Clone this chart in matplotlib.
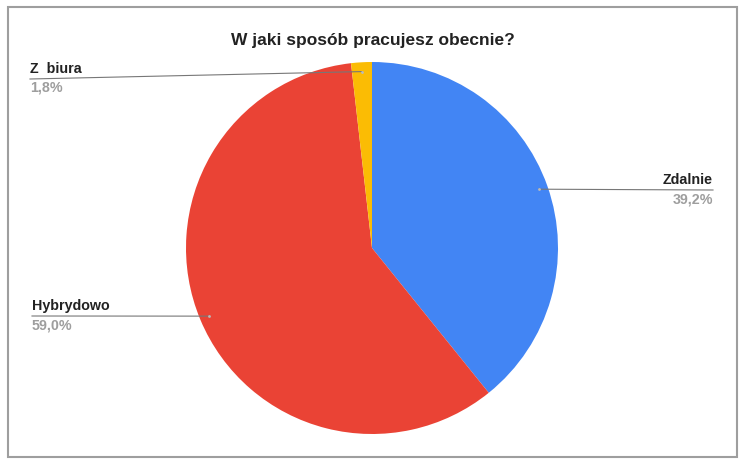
import matplotlib
matplotlib.use('Agg')
import matplotlib.pyplot as plt
import numpy as np

labels = ['Zdalnie', 'Hybrydowo', 'Z  biura']
pct_labels = ['39,2%', '59,0%', '1,8%']
values = [39.2, 59.0, 1.8]
colors = ['#4285F4', '#EA4335', '#FBBC04']

W, H = 750, 467
fig = plt.figure(figsize=(W / 100, H / 100), dpi=100)
ax = fig.add_axes([0, 0, 1, 1])
ax.set_xlim(0, W)
ax.set_ylim(0, H)
ax.axis('off')

# frame
ax.add_patch(plt.Rectangle((8, H - 457), 729, 450, fill=False, edgecolor='#9e9e9e', lw=1.5))

cx, cy, R = 372, H - 248, 186
ax.pie(values, colors=colors, startangle=90, counterclock=False,
       center=(cx, cy), radius=R, wedgeprops=dict(linewidth=0))
ax.set_xlim(0, W)
ax.set_ylim(0, H)
ax.set_aspect('equal')

ax.text(373, H - 40, 'W jaki sposób pracujesz obecnie?', ha='center', va='center',
        fontsize=12.5, fontweight='bold', family='Liberation Sans', color='#222222')

# leader lines: (end x, end y in image px, alignment)
ends = [(713, 190, 'right'), (32, 316, 'left'), (30, 79, 'left')]
total = sum(values)
cum = 0
for lab, pl, v, (ex, ey, ha) in zip(labels, pct_labels, values, ends):
    mid = 90 - (cum + v / 2) / total * 360
    cum += v
    px = cx + 0.95 * R * np.cos(np.radians(mid))
    py = cy + 0.95 * R * np.sin(np.radians(mid))
    ey = H - ey
    ax.plot([px, ex], [py, ey], color='#777777', lw=0.8)
    ax.plot([px], [py], 'o', ms=2, color='#bbbbbb', mec='none')
    ax.text(ex, ey + 3, lab, ha=ha, va='bottom', fontsize=10.3, fontweight='bold',
            family='Liberation Sans', color='#222222')
    ax.text(ex, ey - 2, pl, ha=ha, va='top', fontsize=10.3, fontweight='bold',
            family='Liberation Sans', color='#9e9e9e')

fig.savefig('out.png', dpi=100, facecolor='white')
